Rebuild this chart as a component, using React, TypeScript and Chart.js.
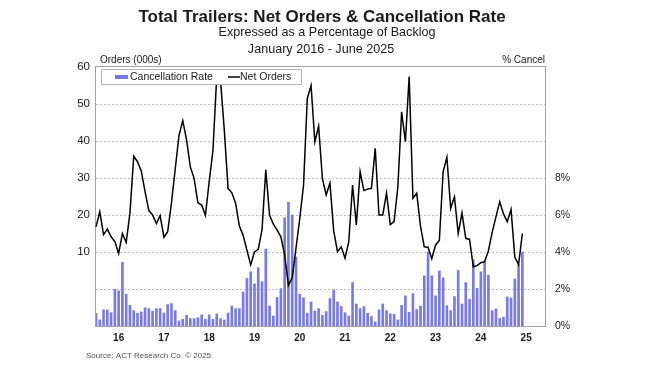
import React, { useEffect, useRef } from "react";
import { Chart, registerables } from "chart.js";

Chart.register(...registerables);

// Axis range: Jan 2016 .. Dec 2025 (data through June 2025)
const years = [2016, 2017, 2018, 2019, 2020, 2021, 2022, 2023, 2024, 2025];

// Net orders (000s), monthly Jan 2016 - Jun 2025
const netOrders = [
  16.8, 20.9, 14.7, 16.2, 14.1, 12.8, 9.6, 15.0, 12.6, 20.5, 35.9, 34.4,
  31.9, 26.3, 21.2, 20.0, 17.7, 19.8, 14.0, 15.5, 23.2, 32.5, 41.5, 45.5,
  40.3, 33.0, 29.9, 23.3, 22.7, 19.9, 29.0, 37.5, 57.5, 56.5, 43.0, 27.2,
  26.0, 23.2, 17.0, 14.5, 10.5, 6.5, 10.0, 10.7, 16.0, 32.2, 20.0, 17.5,
  15.9, 14.1, 9.2, 1.0, 3.0, 11.0, 19.0, 28.0, 51.5, 55.0, 39.8, 44.0,
  29.9, 25.4, 28.6, 15.7, 10.1, 11.4, 8.3, 12.8, 28.1, 17.3, 31.7, 26.6,
  27.0, 27.2, 38.0, 20.0, 20.0, 25.9, 17.4, 18.2, 27.5, 47.9, 39.8, 57.4,
  24.5, 25.9, 17.0, 11.4, 11.3, 8.2, 11.9, 13.1, 31.7, 35.6, 21.8, 24.9,
  15.0, 20.5, 13.7, 13.4, 6.0, 6.3, 7.1, 7.4, 10.3, 15.3, 19.5, 23.6,
  20.3, 18.2, 21.5, 8.6, 6.6, 15.0,
];

// Cancellation rate (% of backlog), monthly Jan 2016 - Jun 2025
const cancelRate = [
  0.69, 0.33, 0.87, 0.87, 0.72, 1.99, 1.9, 3.44, 1.72, 1.12, 0.83, 0.69,
  0.76, 0.98, 0.94, 0.8, 0.94, 0.94, 0.7, 1.16, 1.21, 0.83, 0.27, 0.36,
  0.58, 0.4, 0.4, 0.45, 0.6, 0.36, 0.6, 0.36, 0.65, 0.4, 0.33, 0.7,
  1.08, 0.94, 0.94, 1.84, 2.57, 2.93, 2.28, 3.15, 2.4, 4.16, 1.08, 0.54,
  1.54, 2.02, 5.85, 6.69, 6.0, 3.73, 1.72, 1.52, 0.69, 1.3, 0.81, 0.94,
  0.58, 0.78, 1.48, 1.95, 1.3, 1.05, 0.72, 0.54, 2.35, 1.19, 0.94, 1.05,
  0.69, 0.51, 0.22, 0.87, 1.19, 0.83, 0.65, 0.63, 0.33, 1.12, 1.63, 0.74,
  1.75, 0.89, 1.08, 2.71, 4.01, 2.71, 1.63, 2.97, 2.6, 1.1, 0.83, 1.59,
  3.0, 1.19, 2.35, 1.45, 3.58, 2.04, 2.93, 3.47, 2.75, 0.83, 0.92, 0.4,
  0.48, 1.57, 1.52, 2.54, 3.32, 4.0,
];

const leftTickLabels = [10, 20, 30, 40, 50, 60];
const rightTickLabels = [0, 2, 4, 6, 8];

const titleText = "Total Trailers: Net Orders & Cancellation Rate";
const subtitleText = "Expressed as a Percentage of Backlog";
const periodText = "January 2016 - June 2025";
const leftAxisTitle = "Orders (000s)";
const rightAxisTitle = "% Cancel";
const sourceText = "Source: ACT Research Co. \u00A9 2025";
const seriesNames = ["Cancellation Rate", "Net Orders"];

const FONT = '"Liberation Sans", Arial, Helvetica, sans-serif';
const BAR_COLOR = "#7a7ae6";
const FRAME_COLOR = "#a3a3a3";
const TEXT_COLOR = "#1a1a1a";

const labels: string[] = [];
years.forEach((y) => {
  for (let m = 1; m <= 12; m++) labels.push(`${y}-${String(m).padStart(2, "0")}`);
});

const decorPlugin = {
  id: "decor",
  beforeDatasetsDraw(chart: any) {
    const { ctx, chartArea: a } = chart;
    ctx.save();
    ctx.strokeStyle = FRAME_COLOR;
    ctx.lineWidth = 1;
    ctx.strokeRect(a.left - 0.5, a.top - 0.5, a.right - a.left + 1, a.bottom - a.top + 1);
    ctx.restore();
  },
  afterDatasetsDraw(chart: any) {
    const { ctx } = chart;
    ctx.save();
    // legend box
    ctx.fillStyle = "#ffffff";
    ctx.fillRect(101.5, 69.5, 200, 15);
    ctx.strokeStyle = "#b5b5b5";
    ctx.lineWidth = 1;
    ctx.strokeRect(101.5, 69.5, 200, 15);
    ctx.fillStyle = BAR_COLOR;
    ctx.fillRect(115, 75, 13, 4);
    ctx.fillStyle = TEXT_COLOR;
    ctx.font = `10.5px ${FONT}`;
    ctx.textBaseline = "middle";
    ctx.textAlign = "left";
    ctx.fillText(seriesNames[0], 130, 77.5);
    ctx.strokeStyle = "#000";
    ctx.lineWidth = 1.5;
    ctx.beginPath();
    ctx.moveTo(228, 77);
    ctx.lineTo(240, 77);
    ctx.stroke();
    ctx.fillText(seriesNames[1], 240, 77.5);
    ctx.restore();
  },
  afterDraw(chart: any) {
    const { ctx, chartArea: a } = chart;
    ctx.save();
    ctx.fillStyle = TEXT_COLOR;
    ctx.textBaseline = "middle";
    ctx.textAlign = "center";
    ctx.font = `bold 17px ${FONT}`;
    ctx.fillText(titleText, 322, 17);
    ctx.font = `12.6px ${FONT}`;
    ctx.fillText(subtitleText, 327, 33);
    ctx.fillText(periodText, 321, 50);
    ctx.font = `10px ${FONT}`;
    ctx.textAlign = "left";
    ctx.fillText(leftAxisTitle, 100, 60);
    ctx.textAlign = "right";
    ctx.fillText(rightAxisTitle, a.right, 60);
    ctx.textAlign = "left";
    ctx.fillStyle = "#555";
    ctx.font = `8px ${FONT}`;
    ctx.fillText(sourceText, 86, 356);
    ctx.restore();
  },
};

export default function App() {
  const ref = useRef<HTMLCanvasElement | null>(null);

  useEffect(() => {
    if (!ref.current) return;
    Chart.defaults.font.family = FONT;
    const chart = new Chart(ref.current, {
      type: "bar",
      data: {
        labels,
        datasets: [
          {
            type: "line",
            label: seriesNames[1],
            data: netOrders,
            yAxisID: "y",
            borderColor: "#000000",
            borderWidth: 1.5,
            pointRadius: 0,
            tension: 0,
            order: 1,
          } as any,
          {
            type: "bar",
            label: seriesNames[0],
            data: cancelRate,
            yAxisID: "yR",
            backgroundColor: BAR_COLOR,
            barThickness: 2,
            order: 2,
          },
        ],
      },
      options: {
        responsive: false,
        animation: false,
        layout: { padding: { top: 67, left: 0, right: 0, bottom: 0 } },
        plugins: {
          legend: { display: false },
          tooltip: { enabled: false },
          title: { display: false },
        },
        scales: {
          x: {
            type: "category",
            offset: false,
            grid: { display: false, drawTicks: false },
            border: { display: false },
            ticks: {
              autoSkip: false,
              maxRotation: 0,
              minRotation: 0,
              padding: 6,
              color: TEXT_COLOR,
              font: { size: 10, weight: "bold" },
              callback: (_v: any, i: number) =>
                i % 12 === 6 ? String(years[Math.floor(i / 12)]).slice(2) : "",
            },
            afterFit: (s: any) => {
              s.height = 40;
            },
          },
          y: {
            type: "linear",
            position: "left",
            min: -10,
            max: 60,
            grid: {
              drawTicks: false,
              color: (c: any) =>
                c.tick && c.tick.value >= 0 && c.tick.value <= 50 ? "#bdbdbd" : "rgba(0,0,0,0)",
              lineWidth: 1,
            },
            border: { display: false, dash: [2, 2] },
            ticks: {
              stepSize: 10,
              padding: 6,
              color: TEXT_COLOR,
              font: { size: 11.5 },
              callback: (v: any) => (leftTickLabels.includes(v) ? String(v) : ""),
            },
            afterFit: (s: any) => {
              s.width = 96;
            },
          },
          yR: {
            type: "linear",
            position: "right",
            min: 0,
            max: 14,
            grid: { display: false, drawTicks: false },
            border: { display: false },
            ticks: {
              stepSize: 2,
              padding: 10,
              color: TEXT_COLOR,
              font: { size: 10.5 },
              callback: (v: any) => (rightTickLabels.includes(v) ? `${v}%` : ""),
            },
            afterFit: (s: any) => {
              s.width = 105;
            },
          },
        },
      } as any,
      plugins: [decorPlugin],
    });
    return () => chart.destroy();
  }, []);

  return (
    <div style={{ position: "absolute", left: 0, top: 0, width: 650, height: 366, background: "#fff" }}>
      <canvas ref={ref} width={650} height={366} />
    </div>
  );
}
